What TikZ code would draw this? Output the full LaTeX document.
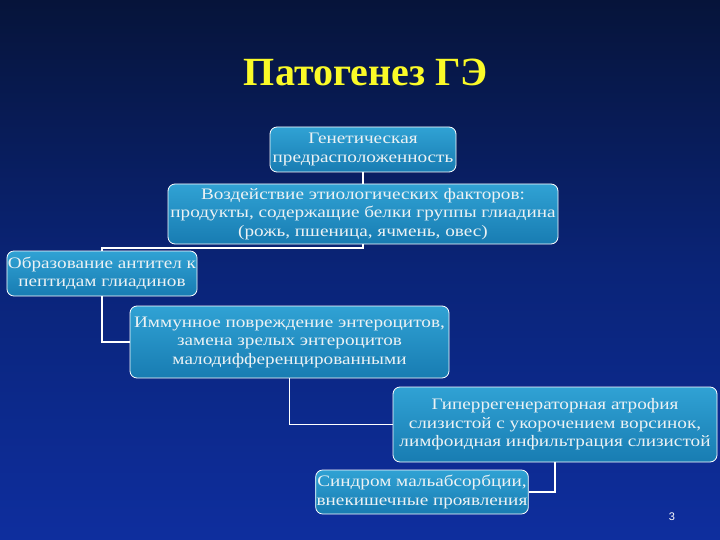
\documentclass[tikz,border=0pt]{standalone}
\usepackage{fontspec}
\setmainfont{Liberation Serif}
\newfontfamily\boxfont{Liberation Serif}[FakeStretch=1.2]
\newfontfamily\numfont{Liberation Sans}
\usepackage{tikz}
\usetikzlibrary{calc}

\definecolor{bgtop}{RGB}{6,20,58}
\definecolor{bgmid}{RGB}{10,36,120}
\definecolor{bgbot}{RGB}{14,46,158}
\definecolor{boxtop}{RGB}{48,162,212}
\definecolor{boxbot}{RGB}{24,124,178}
\definecolor{titleyellow}{RGB}{250,250,40}
\definecolor{boxtext}{RGB}{236,242,244}

\tikzset{
  stage/.style={draw=white,line width=0.8pt,rounded corners=7pt,
    top color=boxtop,bottom color=boxbot,text=boxtext,align=center,
    inner sep=1pt,font=\boxfont\fontsize{16}{18.5}\selectfont},
  link/.style={draw=white,line width=1.9pt}
}

\begin{document}
\begin{tikzpicture}[x=1pt,y=-1pt]
    \shade[top color=bgtop,bottom color=bgbot,middle color=bgmid]
      (0,0) rectangle (720,540);
    \useasboundingbox (0,0) rectangle (720,540);
    \node[text=titleyellow,font=\bfseries\fontsize{40}{46}\selectfont]
      (title) at (366,72) {Патогенез ГЭ};
    \node[stage,minimum width=186pt,minimum height=45pt] (gen) at (363,149.5)
      {Генетическая\\предрасположенность};
    \node[stage,minimum width=390pt,minimum height=60pt] (etio) at (363,214)
      {Воздействие этиологических факторов:\\продукты, содержащие белки группы глиадина\\(рожь, пшеница, ячмень, овес)};
    \node[stage,minimum width=190pt,minimum height=45pt] (anti) at (102,273.5)
      {Образование антител к\\пептидам глиадинов};
    \node[stage,minimum width=319pt,minimum height=72pt] (immun) at (289.5,342)
      {Иммунное повреждение энтероцитов,\\замена зрелых энтероцитов\\малодифференцированными};
    \node[stage,minimum width=324pt,minimum height=75pt] (atroph) at (555,424.5)
      {Гиперрегенераторная атрофия\\слизистой с укорочением ворсинок,\\лимфоидная инфильтрация слизистой};
    \node[stage,minimum width=212pt,minimum height=44pt] (malabs) at (422,492)
      {Синдром мальабсорбции,\\внекишечные проявления};
    \node[text=white,font=\numfont\fontsize{11}{13}\selectfont] (pagenum) at (672,517) {3};
    \draw[link] (gen.south) -- (etio.north);
    \draw[link] (etio.south) -- ++(0,4) -| (anti.north);
    \draw[link] (anti.south) |- (immun.west);
    \draw[link] (immun.south) |- (atroph.west);
    \draw[link] (atroph.south) |- (malabs.east);
  \end{tikzpicture}
\end{document}
